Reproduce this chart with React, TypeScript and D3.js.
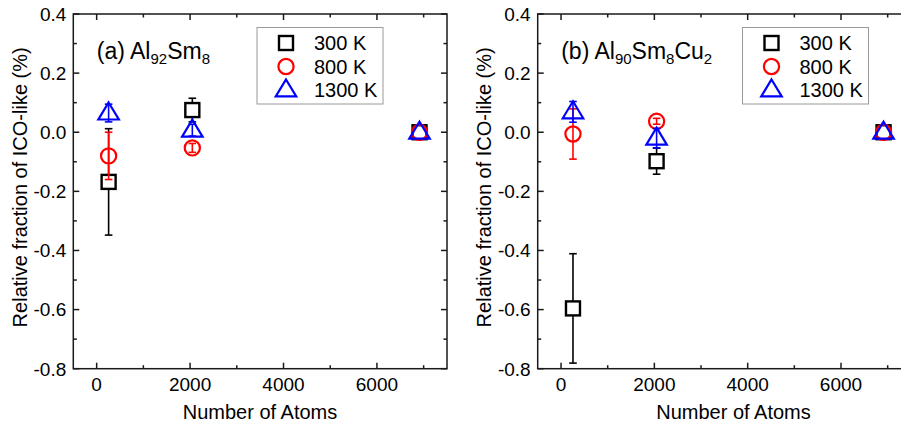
import React from "react";
import * as d3 from "d3";

const atoms = [256, 2048, 6912];
const tempLabels = ["300 K", "800 K", "1300 K"];
const seriesColors = ["#000000", "#ff0000", "#0000ff"];

// Panel (a) Al92Sm8
const a300 = [-0.168, 0.075, 0];
const a300Err = [0.18, 0.04, 0];
const a800 = [-0.08, -0.053, 0];
const a800Err = [0.08, 0.015, 0];
const a1300 = [0.065, 0.007, 0];
const a1300Err = [0.03, 0.02, 0];

// Panel (b) Al90Sm8Cu2
const b300 = [-0.596, -0.098, 0];
const b300Err = [0.185, 0.044, 0];
const b800 = [-0.006, 0.037, 0];
const b800Err = [0.085, 0.01, 0];
const b1300 = [0.069, -0.02, 0];
const b1300Err = [0.035, 0.033, 0];

const xTicks = [0, 2000, 4000, 6000];
const xMinorTicks = [1000, 3000, 5000, 7000];
const yTicks = [-0.8, -0.6, -0.4, -0.2, 0.0, 0.2, 0.4];
const yMinorTicks = [-0.7, -0.5, -0.3, -0.1, 0.1, 0.3];

const FONT = "'Liberation Sans', Arial, Helvetica, sans-serif";
const AX = "#1a1a1a";

type Series = { vals: number[]; errs: number[] };

function Marker({ kind, x, y, color }: { kind: number; x: number; y: number; color: string }) {
  if (kind === 0) {
    const s = 14;
    return <rect x={x - s / 2} y={y - s / 2} width={s} height={s} fill="#fff" stroke={color} strokeWidth={2.4} />;
  }
  if (kind === 1) {
    return <circle cx={x} cy={y} r={7.6} fill="none" stroke={color} strokeWidth={2.2} />;
  }
  const w = 20.5;
  const h = 17;
  const p = `M${x},${y - h * 0.62} L${x + w / 2},${y + h * 0.38} L${x - w / 2},${y + h * 0.38} Z`;
  return <path d={p} fill="none" stroke={color} strokeWidth={2.2} strokeLinejoin="miter" />;
}

function Panel({
  x0, x1, series, titleParts, legendX, yLabelX, xLabelX,
}: {
  x0: number; x1: number; series: Series[];
  titleParts: { t: string; sub?: boolean }[];
  legendX: number; yLabelX: number; xLabelX: number;
}) {
  const y0 = 14;
  const y1 = 368.7;
  const x = d3.scaleLinear().domain([-500, 7500]).range([x0, x1]);
  const y = d3.scaleLinear().domain([-0.8, 0.4]).range([y1, y0]);
  const major = 6;
  const minor = 3.5;
  const fmt = (t: number) => d3.format(".1f")(t).replace("\u2212", "-");
  return (
    <g>
      {/* frame */}
      <rect x={x0} y={y0} width={x1 - x0} height={y1 - y0} fill="none" stroke={AX} strokeWidth={1.5} />
      {xTicks.map((t) => (
        <g key={"xt" + t}>
          <line x1={x(t)} x2={x(t)} y1={y1} y2={y1 - major} stroke={AX} strokeWidth={1.5} />
          <line x1={x(t)} x2={x(t)} y1={y0} y2={y0 + major} stroke={AX} strokeWidth={1.5} />
          <text x={x(t)} y={390.5} textAnchor="middle" fontSize={19} fontFamily={FONT} fill="#000">{t}</text>
        </g>
      ))}
      {xMinorTicks.map((t) => (
        <g key={"xm" + t}>
          <line x1={x(t)} x2={x(t)} y1={y1} y2={y1 - minor} stroke={AX} strokeWidth={1.5} />
          <line x1={x(t)} x2={x(t)} y1={y0} y2={y0 + minor} stroke={AX} strokeWidth={1.5} />
        </g>
      ))}
      {yTicks.map((t) => (
        <g key={"yt" + t}>
          <line x1={x0} x2={x0 + major} y1={y(t)} y2={y(t)} stroke={AX} strokeWidth={1.5} />
          <line x1={x1} x2={x1 - major} y1={y(t)} y2={y(t)} stroke={AX} strokeWidth={1.5} />
          <text x={x0 - 7} y={y(t)} dy="0.36em" textAnchor="end" fontSize={19} fontFamily={FONT} fill="#000">
            {fmt(t)}
          </text>
        </g>
      ))}
      {yMinorTicks.map((t) => (
        <g key={"ym" + t}>
          <line x1={x0} x2={x0 + minor} y1={y(t)} y2={y(t)} stroke={AX} strokeWidth={1.5} />
          <line x1={x1} x2={x1 - minor} y1={y(t)} y2={y(t)} stroke={AX} strokeWidth={1.5} />
        </g>
      ))}
      {/* axis titles */}
      <text x={xLabelX} y={419} textAnchor="middle" fontSize={20} fontFamily={FONT} fill="#000">Number of Atoms</text>
      <text transform={`translate(${yLabelX},${(y0 + y1) / 2 - 4}) rotate(-90)`} textAnchor="middle" fontSize={20} fontFamily={FONT} fill="#000">
        Relative fraction of ICO-like (%)
      </text>
      {/* panel title */}
      <text x={x0 + 23.5} y={58.5} fontSize={23} fontFamily={FONT} fill="#000">
        {titleParts.map((p, i) =>
          p.sub ? (
            <tspan key={i} fontSize={15} dy={5}>{p.t}</tspan>
          ) : (
            <tspan key={i} dy={i > 0 && titleParts[i - 1].sub ? -5 : 0}>{p.t}</tspan>
          )
        )}
      </text>
      {/* data */}
      {series.map((s, si) => (
        <g key={"s" + si}>
          {s.vals.map((v, i) =>
            s.errs[i] > 0 ? (
              <g key={"e" + i}>
                <line x1={x(atoms[i])} x2={x(atoms[i])} y1={y(v - s.errs[i])} y2={y(v + s.errs[i])} stroke={seriesColors[si]} strokeWidth={1.6} />
                <line x1={x(atoms[i]) - 3.8} x2={x(atoms[i]) + 3.8} y1={y(v + s.errs[i])} y2={y(v + s.errs[i])} stroke={seriesColors[si]} strokeWidth={1.6} />
                <line x1={x(atoms[i]) - 3.8} x2={x(atoms[i]) + 3.8} y1={y(v - s.errs[i])} y2={y(v - s.errs[i])} stroke={seriesColors[si]} strokeWidth={1.6} />
              </g>
            ) : null
          )}
          {s.vals.map((v, i) => (
            <Marker key={"m" + i} kind={si} x={x(atoms[i])} y={y(v)} color={seriesColors[si]} />
          ))}
        </g>
      ))}
      {/* legend */}
      <rect x={legendX} y={27.5} width={126} height={76.5} fill="#fff" stroke="#9a9a9a" strokeWidth={1} />
      {tempLabels.map((lab, i) => (
        <g key={"lg" + i}>
          <Marker kind={i} x={legendX + 29} y={43 + i * 23.5} color={seriesColors[i]} />
          <text x={legendX + 57} y={43 + i * 23.5} dy="0.36em" fontSize={20} fontFamily={FONT} fill="#000">{lab}</text>
        </g>
      ))}
    </g>
  );
}

export default function App() {
  const seriesA: Series[] = [
    { vals: a300, errs: a300Err },
    { vals: a800, errs: a800Err },
    { vals: a1300, errs: a1300Err },
  ];
  const seriesB: Series[] = [
    { vals: b300, errs: b300Err },
    { vals: b800, errs: b800Err },
    { vals: b1300, errs: b1300Err },
  ];
  return (
    <svg
      width={901}
      height={430}
      style={{ position: "absolute", left: 0, top: 0, background: "#fff", overflow: "hidden" }}
    >
      <rect x={0} y={0} width={901} height={430} fill="#fff" />
      <Panel
        x0={73.3}
        x1={447}
        series={seriesA}
        titleParts={[{ t: "(a) Al" }, { t: "92", sub: true }, { t: "Sm" }, { t: "8", sub: true }]}
        legendX={257}
        yLabelX={27}
        xLabelX={260}
      />
      <Panel
        x0={537.7}
        x1={911}
        series={seriesB}
        titleParts={[{ t: "(b) Al" }, { t: "90", sub: true }, { t: "Sm" }, { t: "8", sub: true }, { t: "Cu" }, { t: "2", sub: true }]}
        legendX={742.5}
        yLabelX={491}
        xLabelX={733.5}
      />
    </svg>
  );
}
